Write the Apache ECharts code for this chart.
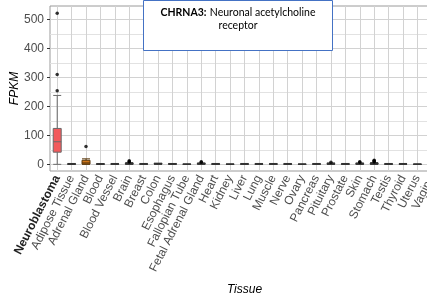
<!DOCTYPE html>
<html>
<head>
<meta charset="utf-8">
<script src="https://cdn.jsdelivr.net/npm/echarts@6/dist/echarts.min.js"></script>
<style>
  html, body { margin: 0; padding: 0; overflow: hidden; background: #fff; }
  #chart { width: 445px; height: 301px; }
</style>
</head>
<body>
<div id="chart"></div>
<script>
// 组织类别
const categories = ['Neuroblastoma', 'Adipose Tissue', 'Adrenal Gland', 'Blood', 'Blood Vessel', 'Brain',
  'Breast', 'Colon', 'Esophagus', 'Fallopian Tube', 'Fetal Adrenal Gland', 'Heart', 'Kidney', 'Liver',
  'Lung', 'Muscle', 'Nerve', 'Ovary', 'Pancreas', 'Pituitary', 'Prostate', 'Skin', 'Stomach', 'Testis',
  'Thyroid', 'Uterus', 'Vagina'];

// [min, Q1, median, Q3, max]
const boxValues = [
  [0, 42, 78, 124, 238],
  [0, 0.5, 1, 1.5, 3],
  [0, 1, 5, 14, 19],
  [0, 0.5, 1, 1.5, 2.5],
  [0, 0.5, 1, 1.5, 3],
  [0, 1, 2, 3, 6],
  [0, 0.5, 1, 1.5, 3],
  [0, 1, 2, 3, 4],
  [0, 0.5, 1, 2, 3],
  [0, 0, 0.3, 0.6, 1],
  [0, 1, 2, 3, 5],
  [0, 0.5, 1, 1.5, 3],
  [0, 0, 0.3, 0.6, 1],
  [0, 0.5, 1, 1.5, 3],
  [0, 0.5, 1, 1.5, 3],
  [0, 0.5, 1, 1.5, 3],
  [0, 0.5, 1, 1.5, 3],
  [0, 0, 0.3, 0.6, 1],
  [0, 0.5, 1, 1.5, 3],
  [0, 1, 1.5, 2.5, 5],
  [0, 0.5, 1, 1.5, 3],
  [0, 1, 1.5, 2.5, 5],
  [0, 1, 2, 3.5, 6],
  [0, 0.5, 1, 1.5, 3],
  [0, 0.5, 1, 1.5, 3],
  [0, 0, 0.3, 0.6, 1],
  [0, 0.5, 1, 1.5, 3]
];

// 离群点 [类别序号, 值]
const outliers = [
  [0, 254], [0, 310], [0, 522],
  [2, 62],
  [5, 8], [5, 10], [5, 12],
  [10, 7], [10, 9],
  [19, 7],
  [21, 7], [21, 9],
  [22, 8], [22, 10], [22, 12], [22, 14]
];

const yLabels = [0, 100, 200, 300, 400, 500];
const yMinor = [50, 150, 250, 350, 450];

const boxColors = { 0: '#F25A5C', 2: '#D0771A' };
const boxBorders = { 0: '#6a6a6a', 2: '#5C3A0E' };

const chart = echarts.init(document.getElementById('chart'));

// 网格线（用 markLine 画，跟 ggplot 一样：主线 + 次线）
const major = { color: '#D2D2D2', width: 1, type: 'solid', opacity: 1 };
const minor = { color: '#E2E2E2', width: 1, type: 'solid', opacity: 1 };
const gridLines = []
  .concat(yLabels.map(v => ({ yAxis: v, lineStyle: major })))
  .concat(yMinor.map(v => ({ yAxis: v, lineStyle: minor })))
  .concat(categories.map(c => ({ xAxis: c, lineStyle: major })));

const option = {
  animation: false,
  textStyle: { fontFamily: 'Liberation Sans, Arial, sans-serif' },
  grid: {
    left: 50,
    right: 6,
    top: 6,
    bottom: 127,
    show: true,
    borderColor: '#9a9a9a',
    borderWidth: 1,
    backgroundColor: 'transparent'
  },
  xAxis: {
    type: 'category',
    data: categories,
    boundaryGap: true,
    name: 'Tissue',
    nameLocation: 'middle',
    nameGap: 113,
    nameMoveOverlap: false,
    nameTextStyle: { fontStyle: 'italic', fontSize: 12, color: '#000' },
    axisLine: { show: false },
    axisTick: { show: true, alignWithLabel: true, length: 3, lineStyle: { color: '#333' } },
    splitLine: { show: false },
    axisLabel: {
      interval: 0,
      rotate: 63,
      margin: 5,
      fontSize: 12,
      color: '#4D4D4D',
      formatter: function (v) {
        return v === 'Neuroblastoma' ? '{b|' + v + '}' : v;
      },
      rich: { b: { fontWeight: 'bold', color: '#222', fontSize: 12 } }
    }
  },
  yAxis: {
    type: 'value',
    min: -23,
    max: 547,
    name: 'FPKM',
    nameLocation: 'middle',
    nameGap: 29,
    nameMoveOverlap: false,
    nameTextStyle: { fontStyle: 'italic', fontSize: 12, color: '#000' },
    axisLine: { show: false },
    axisTick: { show: true, length: 3, customValues: yLabels, lineStyle: { color: '#333' } },
    axisLabel: { customValues: yLabels, fontSize: 12, color: '#4D4D4D', margin: 6 },
    splitLine: { show: false }
  },
  graphic: [
    {
      type: 'rect',
      shape: { x: 143.5, y: 0.5, width: 189, height: 50 },
      style: { fill: '#fff', stroke: '#4472C4', lineWidth: 1 },
      z: 100
    },
    {
      type: 'text',
      x: 238,
      y: 6,
      z: 101,
      style: {
        text: '{b|CHRNA3:} {n|Neuronal acetylcholine}\n{n|receptor}',
        align: 'center',
        rich: {
          b: { fontWeight: 'bold', fontSize: 10.5, fontFamily: 'Lato, Open Sans, sans-serif', fill: '#000', lineHeight: 13 },
          n: { fontSize: 10.5, fontFamily: 'Lato, Open Sans, sans-serif', fill: '#000', lineHeight: 13 }
        }
      }
    }
  ],
  series: [
    {
      type: 'line',
      data: [],
      z: 1,
      silent: true,
      markLine: {
        z: 1,
        silent: true,
        symbol: ['none', 'none'],
        label: { show: false },
        lineStyle: { type: 'solid' },
        emphasis: { disabled: true },
        animation: false,
        data: gridLines
      }
    },
    {
      type: 'boxplot',
      z: 3,
      boxWidth: [8, 8],
      data: boxValues.map(function (v, i) {
        return {
          value: v,
          itemStyle: {
            color: boxColors[i] || '#444',
            borderColor: boxBorders[i] || '#333',
            borderWidth: 1
          }
        };
      })
    },
    {
      type: 'scatter',
      z: 4,
      symbolSize: 3.5,
      itemStyle: { color: '#000' },
      data: outliers
    }
  ]
};

chart.setOption(option);
</script>
</body>
</html>
